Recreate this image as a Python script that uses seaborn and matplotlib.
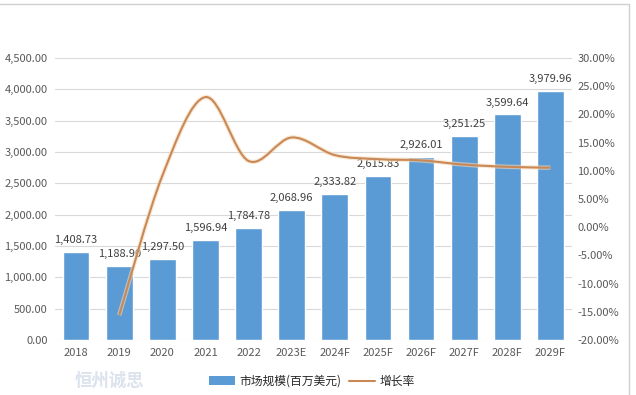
import numpy as np
import pandas as pd
import matplotlib
matplotlib.use("Agg")
import matplotlib.pyplot as plt
from matplotlib.path import Path
from matplotlib.patches import PathPatch, Patch
from matplotlib.lines import Line2D
import seaborn as sns

# data
years = ["2018", "2019", "2020", "2021", "2022", "2023E", "2024F",
         "2025F", "2026F", "2027F", "2028F", "2029F"]
market_size = [1408.73, 1188.90, 1297.50, 1596.94, 1784.78, 2068.96, 2333.82,
               2615.83, 2926.01, 3251.25, 3599.64, 3979.96]
growth_years = years[1:]
growth_rate = [-15.60, 9.13, 23.08, 11.76, 15.92, 12.80,
               12.08, 11.86, 11.11, 10.72, 10.56]

bar_label = "市场规模(百万美元)"
line_label = "增长率"

BLUE = "#5B9BD5"
ORANGE = "#C98957"
GRAY = "#595959"

sns.set_theme(style="white")
plt.rcParams["font.family"] = ["Noto Sans CJK SC", "DejaVu Sans"]

df = pd.DataFrame({"year": years, "size": market_size})

fig = plt.figure(figsize=(6.36, 3.95), dpi=100)
ax = fig.add_axes([0.0857, 0.139, 0.8136, 0.714])

sns.barplot(data=df, x="year", y="size", order=years, color=BLUE,
            saturation=1, width=0.62, ax=ax, zorder=2)
ax.set_xlim(-0.5, len(years) - 0.5)
ax.set_ylim(0, 4500)
ax.set_yticks(np.arange(0, 4501, 500))
ax.set_yticklabels([f"{v:,.2f}" for v in np.arange(0, 4501, 500)])
ax.set_xlabel("")
ax.set_ylabel("")
ax.grid(axis="y", color="#D9D9D9", lw=0.8, zorder=0)
ax.set_axisbelow(True)
for s in ax.spines.values():
    s.set_visible(False)
ax.tick_params(axis="y", length=0, pad=5, labelsize=8, labelcolor=GRAY)
ax.tick_params(axis="x", length=0, pad=6, labelsize=8, labelcolor=GRAY)

for i, v in enumerate(market_size):
    ax.annotate(f"{v:,.2f}", (i, v), xytext=(0, 5), textcoords="offset points",
                ha="center", va="bottom", fontsize=8, color="#404040")

# secondary axis with smoothed growth line (Excel style bezier)
ax2 = ax.twinx()
ax2.set_ylim(-20, 30)
ax2.set_yticks(np.arange(-20, 31, 5))
ax2.set_yticklabels([f"{v:.2f}%" for v in np.arange(-20, 31, 5)])
ax2.tick_params(axis="y", length=0, pad=4, labelsize=8, labelcolor=GRAY)
ax2.grid(False)
for s in ax2.spines.values():
    s.set_visible(False)

px = np.arange(1, len(years))
py = np.array(growth_rate)
pts = np.column_stack([px, py])
verts = [pts[0]]
codes = [Path.MOVETO]
n = len(pts)
for i in range(n - 1):
    p_prev = pts[max(i - 1, 0)]
    p0 = pts[i]
    p1 = pts[i + 1]
    p_next = pts[min(i + 2, n - 1)]
    c1 = p0 + (p1 - p_prev) / 6
    c2 = p1 - (p_next - p0) / 6
    verts += [c1, c2, p1]
    codes += [Path.CURVE4] * 3
ax2.add_patch(PathPatch(Path(verts, codes), fill=False, edgecolor="#F6D9B8",
                        lw=3.2, alpha=0.6, zorder=3))
ax2.add_patch(PathPatch(Path(verts, codes), fill=False, edgecolor=ORANGE,
                        lw=1.5, zorder=4))

# legend
handles = [Patch(facecolor=BLUE, edgecolor="none"),
           Line2D([0], [0], color=ORANGE, lw=1.5)]
fig.legend(handles, [bar_label, line_label], loc="center",
           bbox_to_anchor=(0.49, 0.035), ncol=2, frameon=False, fontsize=8.5,
           handlelength=2.2, columnspacing=0.6, handletextpad=0.4,
           labelcolor="#262626")

# faint watermark
fig.text(0.118, 0.035, "恒州诚思", fontsize=12.5, color="#DCE3EC",
         fontweight="bold", ha="left", va="center", zorder=0)

# chart border (top and right)
fig.add_artist(Line2D([0, 629 / 636], [1 - 4 / 395, 1 - 4 / 395],
                      color="#D0D0D0", lw=1))
fig.add_artist(Line2D([629 / 636, 629 / 636], [0, 1 - 4 / 395],
                      color="#D0D0D0", lw=1))

fig.savefig("out.png", dpi=100)
